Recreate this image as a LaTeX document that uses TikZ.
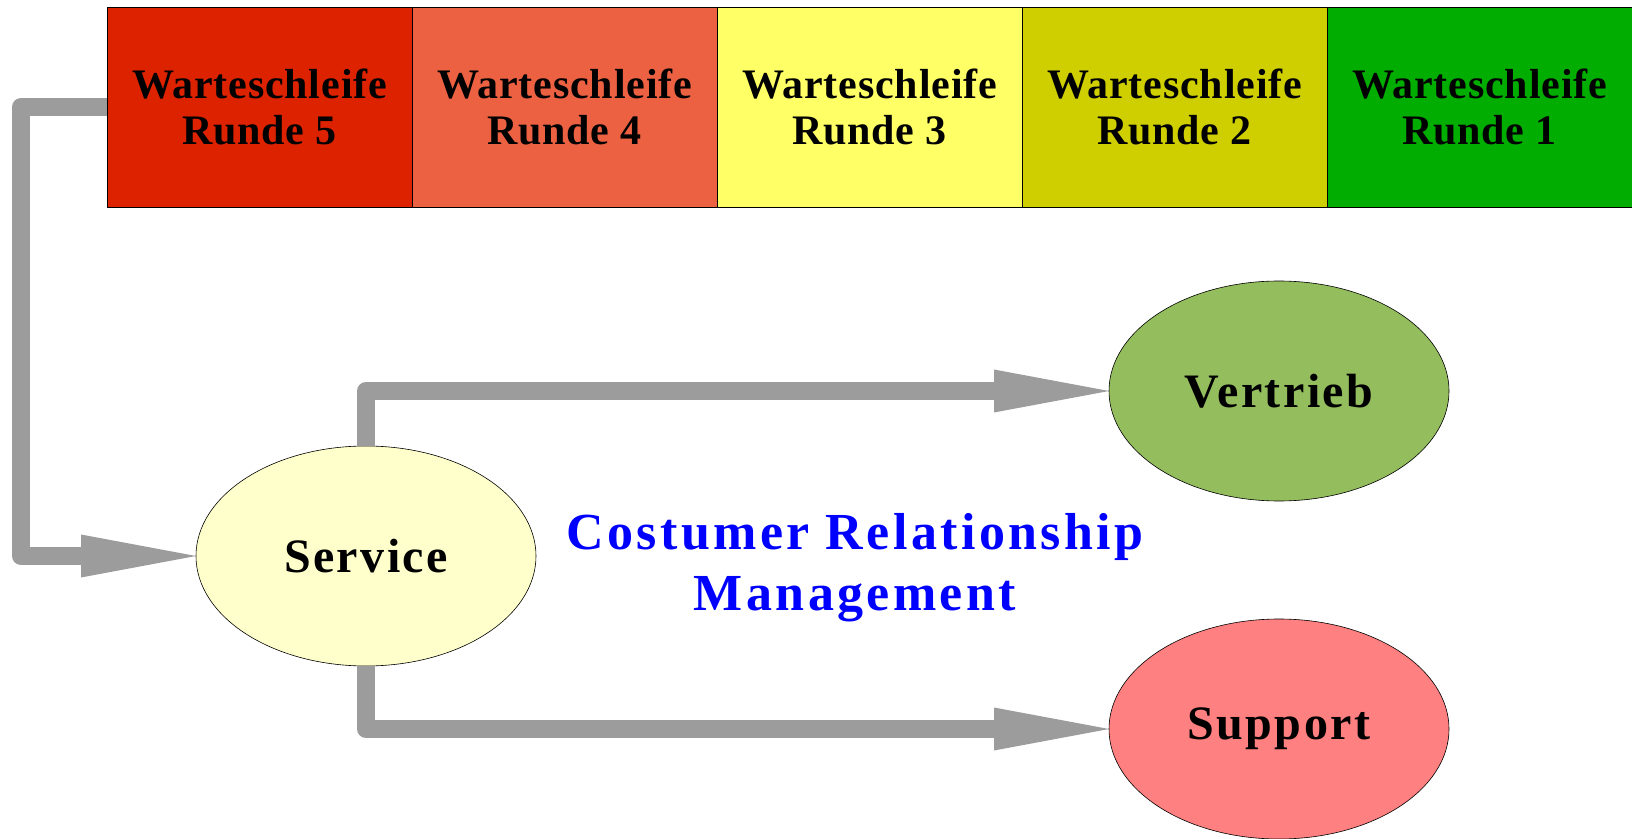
\documentclass[tikz,border=0pt]{standalone}
\usepackage{fontspec}
\setmainfont{Liberation Serif}[LetterSpace=2]
\newfontfamily\abtfont[LetterSpace=5]{Liberation Serif}
\newfontfamily\crmfont[LetterSpace=6.5]{Liberation Serif}
\usetikzlibrary{arrows.meta,shapes.geometric}
\definecolor{rfive}{HTML}{DD2200}
\definecolor{rfour}{HTML}{EC6142}
\definecolor{rthree}{HTML}{FFFF66}
\definecolor{rtwo}{HTML}{CFCF00}
\definecolor{rone}{HTML}{00AD00}
\definecolor{servfill}{HTML}{FFFFCC}
\definecolor{vertfill}{HTML}{94BD5E}
\definecolor{suppfill}{HTML}{FF8080}
\definecolor{flowgray}{HTML}{9C9C9C}
\tikzset{
  runde/.style={draw,line width=0.3pt,minimum width=152.5pt,minimum height=100pt,inner sep=0pt,outer sep=0pt,align=center,font=\fontsize{21}{23}\selectfont\bfseries},
  abt/.style={draw,ellipse,line width=0.3pt,minimum width=170pt,minimum height=110pt,inner sep=0pt,outer sep=0pt,font=\fontsize{24}{28}\selectfont\abtfont\bfseries},
  flow/.style={draw=flowgray,line width=9pt,line join=round,-{Triangle[length=57.5pt,width=21.5pt,line width=0pt]}}
}
\begin{document}
\begin{tikzpicture}[x=0.5pt,y=-0.5pt]
\useasboundingbox (0,0) rectangle (1632,839);
%queue
\foreach \n/\c [count=\i from 0] in {5/rfive,4/rfour,3/rthree,2/rtwo,1/rone}{
  \node[runde,fill=\c] (r\n) at (259.5+305*\i,107) {Warteschleife\\Runde \n};}
%departments
\node[abt,fill=servfill] (serv) at (366,556) {Service};
\node[abt,fill=vertfill] (vert) at (1279,391) {Vertrieb};
\node[abt,fill=suppfill] (supp) at (1279,729) {Support};
\node[text=blue,align=center,font=\fontsize{26}{30.5}\selectfont\crmfont\bfseries] (crm) at (855,568) {Costumer Relationship\\Management};
%flows
\draw[flow] (r5.west) -- ++(-86,0) |- (serv.west);
\draw[flow] (serv.north) |- (vert.west);
\draw[flow] (serv.south) |- (supp.west);
\end{tikzpicture}
\end{document}
